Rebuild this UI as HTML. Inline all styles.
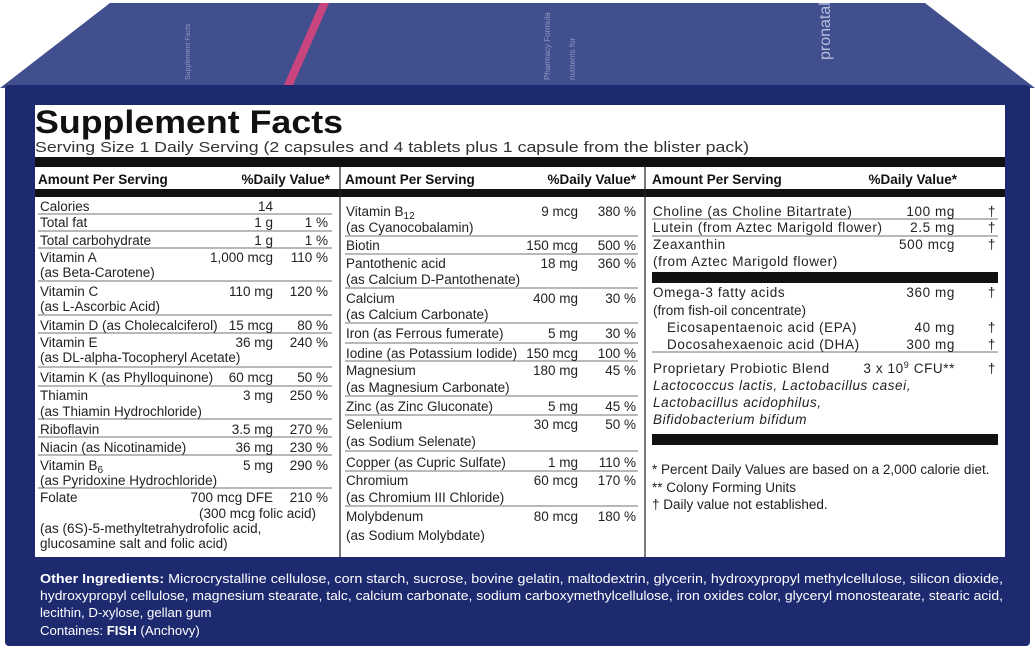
<!DOCTYPE html>
<html><head><meta charset="utf-8"><style>
html,body{margin:0;padding:0;background:#fff;}
svg{display:block}
text{font-family:"Liberation Sans",sans-serif;fill:#222;}
.t{font-size:13.5px}
.h{font-size:13.5px;font-weight:bold;fill:#111}
.w{font-size:13.2px;fill:#fff}
.r{text-anchor:end}
.i{font-style:italic}
.s3{letter-spacing:0.6px}
</style></head><body>
<svg width="1035" height="650" viewBox="0 0 1035 650" xmlns="http://www.w3.org/2000/svg">
<rect width="1035" height="650" fill="#fff"/>
<polygon points="110,3 925,3 1035,88 0,88" fill="#424f8e"/>
<polygon points="320,3 329,3 293,85 284,85" fill="#c8457f"/>
<text x="0" y="0" transform="translate(190,80) rotate(-90)" style="font-size:7px;fill:#8e96c0">Supplement Facts</text>
<text x="0" y="0" transform="translate(550,80) rotate(-90)" style="font-size:8px;fill:#8e96c0">Pharmacy Formula</text>
<text x="0" y="0" transform="translate(575,80) rotate(-90)" style="font-size:8px;fill:#8e96c0">nutrients for</text>
<text x="0" y="0" transform="translate(830,60) rotate(-90)" style="font-size:16px;fill:#b8bedc">pronatal</text>
<rect x="5" y="85" width="1025" height="561" rx="4" fill="#1d2a70"/>
<rect x="35" y="105" width="970" height="452" fill="#fff"/>
<text x="35" y="133" style="font-size:32px;font-weight:bold;fill:#111" textLength="308" lengthAdjust="spacingAndGlyphs">Supplement Facts</text>
<text x="35" y="152" style="font-size:15px;fill:#333" textLength="714" lengthAdjust="spacingAndGlyphs">Serving Size 1 Daily Serving (2 capsules and 4 tablets plus 1 capsule from the blister pack)</text>
<rect x="35" y="157" width="970" height="10" fill="#111"/>
<rect x="35" y="189" width="970" height="8" fill="#111"/>
<line x1="340" y1="167" x2="340" y2="557" stroke="#222" stroke-width="1.2"/>
<line x1="645" y1="167" x2="645" y2="557" stroke="#222" stroke-width="1.2"/>
<text class="h" x="38" y="184">Amount Per Serving</text><text class="h r" x="330" y="184">%Daily Value*</text>
<text class="h" x="345" y="184">Amount Per Serving</text><text class="h r" x="636" y="184">%Daily Value*</text>
<text class="h" x="652" y="184">Amount Per Serving</text><text class="h r" x="957" y="184">%Daily Value*</text>
<g stroke="#444" stroke-width="0.8">
<line x1="38" y1="214" x2="332" y2="214"/><line x1="38" y1="231" x2="332" y2="231"/><line x1="38" y1="248" x2="332" y2="248"/><line x1="38" y1="281" x2="332" y2="281"/><line x1="38" y1="315" x2="332" y2="315"/><line x1="38" y1="333" x2="332" y2="333"/><line x1="38" y1="367" x2="332" y2="367"/><line x1="38" y1="386" x2="332" y2="386"/><line x1="38" y1="419" x2="332" y2="419"/><line x1="38" y1="437" x2="332" y2="437"/><line x1="38" y1="455" x2="332" y2="455"/><line x1="38" y1="488" x2="332" y2="488"/>
<line x1="345" y1="236" x2="638" y2="236"/><line x1="345" y1="254" x2="638" y2="254"/><line x1="345" y1="288" x2="638" y2="288"/><line x1="345" y1="323" x2="638" y2="323"/><line x1="345" y1="343" x2="638" y2="343"/><line x1="345" y1="361" x2="638" y2="361"/><line x1="345" y1="396" x2="638" y2="396"/><line x1="345" y1="415" x2="638" y2="415"/><line x1="345" y1="451" x2="638" y2="451"/><line x1="345" y1="471" x2="638" y2="471"/><line x1="345" y1="506" x2="638" y2="506"/>
<line x1="652" y1="219" x2="998" y2="219"/><line x1="652" y1="236" x2="998" y2="236"/><line x1="652" y1="352" x2="998" y2="352"/>
</g>
<rect x="652" y="272" width="346" height="11" fill="#111"/>
<rect x="652" y="434" width="346" height="11" fill="#111"/>
<g class="t">
<text x="40" y="211">Calories</text><text class="r" x="273" y="211">14</text>
<text x="40" y="227">Total fat</text><text class="r" x="273" y="227">1 g</text><text class="r" x="328" y="227">1 %</text>
<text x="40" y="245">Total carbohydrate</text><text class="r" x="273" y="245">1 g</text><text class="r" x="328" y="245">1 %</text>
<text x="40" y="262">Vitamin A</text><text class="r" x="273" y="262">1,000 mcg</text><text class="r" x="328" y="262">110 %</text>
<text x="40" y="277">(as Beta-Carotene)</text>
<text x="40" y="296">Vitamin C</text><text class="r" x="273" y="296">110 mg</text><text class="r" x="328" y="296">120 %</text>
<text x="40" y="311">(as L-Ascorbic Acid)</text>
<text x="40" y="330">Vitamin D (as Cholecalciferol)</text><text class="r" x="273" y="330">15 mcg</text><text class="r" x="328" y="330">80 %</text>
<text x="40" y="347">Vitamin E</text><text class="r" x="273" y="347">36 mg</text><text class="r" x="328" y="347">240 %</text>
<text x="40" y="362">(as DL-alpha-Tocopheryl Acetate)</text>
<text x="40" y="382">Vitamin K (as Phylloquinone)</text><text class="r" x="273" y="382">60 mcg</text><text class="r" x="328" y="382">50 %</text>
<text x="40" y="400">Thiamin</text><text class="r" x="273" y="400">3 mg</text><text class="r" x="328" y="400">250 %</text>
<text x="40" y="416">(as Thiamin Hydrochloride)</text>
<text x="40" y="434">Riboflavin</text><text class="r" x="273" y="434">3.5 mg</text><text class="r" x="328" y="434">270 %</text>
<text x="40" y="452">Niacin (as Nicotinamide)</text><text class="r" x="273" y="452">36 mg</text><text class="r" x="328" y="452">230 %</text>
<text x="40" y="470">Vitamin B<tspan dy="3" style="font-size:10px">6</tspan></text><text class="r" x="273" y="470">5 mg</text><text class="r" x="328" y="470">290 %</text>
<text x="40" y="485">(as Pyridoxine Hydrochloride)</text>
<text x="40" y="502">Folate</text><text class="r" x="273" y="502">700 mcg DFE</text><text class="r" x="328" y="502">210 %</text>
<text class="r" x="316" y="518">(300 mcg folic acid)</text>
<text x="40" y="533">(as (6S)-5-methyltetrahydrofolic acid,</text>
<text x="40" y="548">glucosamine salt and folic acid)</text>

<text x="346" y="216">Vitamin B<tspan dy="3" style="font-size:10px">12</tspan></text><text class="r" x="578" y="216">9 mcg</text><text class="r" x="636" y="216">380 %</text>
<text x="346" y="232">(as Cyanocobalamin)</text>
<text x="346" y="250">Biotin</text><text class="r" x="578" y="250">150 mcg</text><text class="r" x="636" y="250">500 %</text>
<text x="346" y="268">Pantothenic acid</text><text class="r" x="578" y="268">18 mg</text><text class="r" x="636" y="268">360 %</text>
<text x="346" y="284">(as Calcium D-Pantothenate)</text>
<text x="346" y="303">Calcium</text><text class="r" x="578" y="303">400 mg</text><text class="r" x="636" y="303">30 %</text>
<text x="346" y="319">(as Calcium Carbonate)</text>
<text x="346" y="338">Iron (as Ferrous fumerate)</text><text class="r" x="578" y="338">5 mg</text><text class="r" x="636" y="338">30 %</text>
<text x="346" y="358">Iodine (as Potassium Iodide)</text><text class="r" x="578" y="358">150 mcg</text><text class="r" x="636" y="358">100 %</text>
<text x="346" y="375">Magnesium</text><text class="r" x="578" y="375">180 mg</text><text class="r" x="636" y="375">45 %</text>
<text x="346" y="392">(as Magnesium Carbonate)</text>
<text x="346" y="411">Zinc (as Zinc Gluconate)</text><text class="r" x="578" y="411">5 mg</text><text class="r" x="636" y="411">45 %</text>
<text x="346" y="429">Selenium</text><text class="r" x="578" y="429">30 mcg</text><text class="r" x="636" y="429">50 %</text>
<text x="346" y="446">(as Sodium Selenate)</text>
<text x="346" y="467">Copper (as Cupric Sulfate)</text><text class="r" x="578" y="467">1 mg</text><text class="r" x="636" y="467">110 %</text>
<text x="346" y="485">Chromium</text><text class="r" x="578" y="485">60 mcg</text><text class="r" x="636" y="485">170 %</text>
<text x="346" y="502">(as Chromium III Chloride)</text>
<text x="346" y="521">Molybdenum</text><text class="r" x="578" y="521">80 mcg</text><text class="r" x="636" y="521">180 %</text>
<text x="346" y="540">(as Sodium Molybdate)</text>
</g>
<g class="t s3">
<text x="653" y="216">Choline  (as Choline Bitartrate)</text><text class="r" x="955" y="216">100 mg</text><text class="r" x="996" y="216">†</text>
<text x="653" y="232">Lutein (from Aztec Marigold flower)</text><text class="r" x="955" y="232">2.5 mg</text><text class="r" x="996" y="232">†</text>
<text x="653" y="249">Zeaxanthin</text><text class="r" x="955" y="249">500 mcg</text><text class="r" x="996" y="249">†</text>
<text x="653" y="266">(from Aztec Marigold flower)</text>
<text x="653" y="297">Omega-3 fatty acids</text><text class="r" x="955" y="297">360 mg</text><text class="r" x="996" y="297">†</text>
<text x="653" y="315" style="letter-spacing:0">(from fish-oil concentrate)</text>
<text x="667" y="332">Eicosapentaenoic acid (EPA)</text><text class="r" x="955" y="332">40 mg</text><text class="r" x="996" y="332">†</text>
<text x="667" y="349">Docosahexaenoic acid (DHA)</text><text class="r" x="955" y="349">300 mg</text><text class="r" x="996" y="349">†</text>
<text x="653" y="373">Proprietary Probiotic Blend</text><text class="r" x="955" y="373">3 x 10<tspan dy="-5" style="font-size:9px">9</tspan><tspan dy="5"> CFU**</tspan></text><text class="r" x="996" y="373">†</text>
<text class="i" x="653" y="390">Lactococcus lactis, Lactobacillus casei,</text>
<text class="i" x="653" y="407">Lactobacillus acidophilus,</text>
<text class="i" x="653" y="424">Bifidobacterium bifidum</text>
<text x="652" y="474" style="letter-spacing:0">*  Percent Daily Values are based on a 2,000 calorie diet.</text>
<text x="652" y="492" style="letter-spacing:0">** Colony Forming Units</text>
<text x="652" y="509" style="letter-spacing:0">†  Daily value not established.</text>
</g>
<text class="w" x="40" y="583" textLength="963" lengthAdjust="spacingAndGlyphs"><tspan font-weight="bold">Other Ingredients:</tspan> Microcrystalline cellulose, corn starch, sucrose, bovine gelatin, maltodextrin, glycerin, hydroxypropyl methylcellulose, silicon dioxide,</text>
<text class="w" x="40" y="600" textLength="963" lengthAdjust="spacingAndGlyphs">hydroxypropyl cellulose, magnesium stearate, talc, calcium carbonate, sodium carboxymethylcellulose, iron oxides color, glyceryl monostearate, stearic acid,</text>
<text class="w" x="40" y="617">lecithin, D-xylose, gellan gum</text>
<text class="w" x="40" y="635">Containes: <tspan font-weight="bold">FISH</tspan> (Anchovy)</text>
</svg>
</body></html>
